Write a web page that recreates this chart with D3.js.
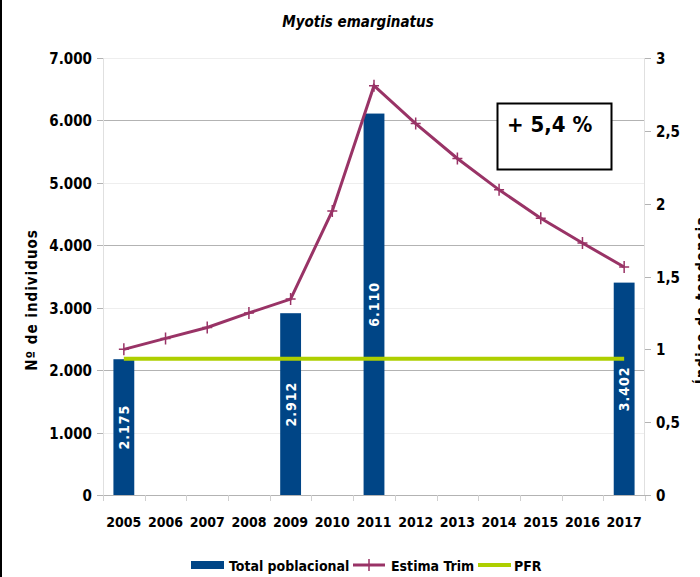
<!DOCTYPE html>
<html>
<head>
<meta charset="utf-8">
<script src="https://cdn.jsdelivr.net/npm/d3@7"></script>
<style>
  body { margin: 0; background: #fff; }
  svg text { font-family: "DejaVu Sans Condensed", "DejaVu Sans", sans-serif; }
</style>
</head>
<body>
<svg id="chart" width="700" height="577"></svg>
<script>
// data
var years = ["2005","2006","2007","2008","2009","2010","2011","2012","2013","2014","2015","2016","2017"];
var totalPoblacional = [2175, null, null, null, 2912, null, 6110, null, null, null, null, null, 3402];
var totalLabels = ["2.175", "", "", "", "2.912", "", "6.110", "", "", "", "", "", "3.402"];
var estimaTrim = [1.0, 1.075, 1.15, 1.25, 1.345, 1.95, 2.81, 2.55, 2.31, 2.095, 1.9, 1.73, 1.565];
var pfr = [0.935, 0.935, 0.935, 0.935, 0.935, 0.935, 0.935, 0.935, 0.935, 0.935, 0.935, 0.935, 0.935];
var leftTicks = [0, 1000, 2000, 3000, 4000, 5000, 6000, 7000];
var leftTickLabels = ["0", "1.000", "2.000", "3.000", "4.000", "5.000", "6.000", "7.000"];
var rightTicks = [0, 0.5, 1, 1.5, 2, 2.5, 3];
var rightTickLabels = ["0", "0,5", "1", "1,5", "2", "2,5", "3"];

var svg = d3.select("#chart");
var margin = {top: 58, left: 103, right: 55, bottom: 82};
var width = 700 - margin.left - margin.right,
    height = 577 - margin.top - margin.bottom;

var x = d3.scaleBand().domain(years).range([0, width]).paddingInner(0.5).paddingOuter(0.25);
var xPoint = d3.scalePoint().domain(years).range([0, width]).padding(0.5);
var y = d3.scaleLinear().domain([0, 7000]).range([height, 0]);
var y2 = d3.scaleLinear().domain([0, 3]).range([height, 0]);

var blue = "#004586", purple = "#993366", green = "#aecf00";

// left frame line
svg.append("rect").attr("x", 0).attr("y", 0).attr("width", 2).attr("height", 577).attr("fill", "#000");

svg.append("text")
    .attr("x", 358).attr("y", 27)
    .attr("text-anchor", "middle")
    .attr("font-size", 15)
    .attr("font-style", "italic")
    .attr("font-weight", "bold")
    .text("Myotis emarginatus");

var g = svg.append("g").attr("transform", "translate(" + margin.left + "," + margin.top + ")");

// gridlines
g.selectAll(".grid")
  .data(leftTicks.slice(1))
  .enter().append("line")
    .attr("x1", 0).attr("x2", width)
    .attr("y1", d => Math.round(y(d)) + 0.5).attr("y2", d => Math.round(y(d)) + 0.5)
    .attr("stroke", d => (d % 2000 === 0) ? "#b3b3b3" : "#eeeeee")
    .attr("stroke-width", 1);

// axis frame lines
g.append("line").attr("x1", 0.5).attr("x2", 0.5).attr("y1", 0).attr("y2", height).attr("stroke", "#e0e0e0");
g.append("line").attr("x1", width - 0.5).attr("x2", width - 0.5).attr("y1", 0).attr("y2", height).attr("stroke", "#e0e0e0");

// bars
var barData = years.map((yr, i) => ({year: yr, value: totalPoblacional[i], label: totalLabels[i]}))
  .filter(d => d.value != null);

g.selectAll(".bar")
  .data(barData)
  .enter().append("rect")
    .attr("class", "bar")
    .attr("x", d => x(d.year))
    .attr("y", d => y(d.value))
    .attr("width", x.bandwidth())
    .attr("height", d => height - y(d.value))
    .attr("fill", blue);

g.selectAll(".barLabel")
  .data(barData)
  .enter().append("text")
    .attr("transform", d => "translate(" + (x(d.year) + x.bandwidth() / 2 + 5) + "," + y(d.value / 2) + ") rotate(-90)")
    .attr("text-anchor", "middle")
    .attr("fill", "#fff")
    .attr("font-size", 14)
    .attr("font-weight", "bold")
    .attr("letter-spacing", 1)
    .text(d => d.label);

// bottom axis
var xAxis = g.append("g")
    .attr("transform", "translate(0," + height + ")");
xAxis.append("line").attr("x1", 0).attr("x2", width).attr("y1", 0.5).attr("y2", 0.5).attr("stroke", "#b3b3b3");
var step = width / years.length;
xAxis.selectAll(".xt")
  .data(d3.range(years.length + 1))
  .enter().append("line")
    .attr("x1", d => Math.round(d * step) + 0.5).attr("x2", d => Math.round(d * step) + 0.5)
    .attr("y1", 0).attr("y2", 6)
    .attr("stroke", "#d0d0d0");
xAxis.selectAll(".xl")
  .data(years)
  .enter().append("text")
    .attr("x", d => xPoint(d))
    .attr("y", 32)
    .attr("text-anchor", "middle")
    .attr("font-size", 14)
    .attr("font-weight", "bold")
    .text(d => d);

// left axis ticks/labels
g.selectAll(".lt")
  .data(leftTicks)
  .enter().append("line")
    .attr("x1", -6).attr("x2", 0)
    .attr("y1", d => Math.round(y(d)) + 0.5).attr("y2", d => Math.round(y(d)) + 0.5)
    .attr("stroke", "#b3b3b3");
g.selectAll(".ll")
  .data(leftTicks)
  .enter().append("text")
    .attr("x", -11)
    .attr("y", d => y(d) + 6)
    .attr("text-anchor", "end")
    .attr("font-size", 15)
    .attr("font-weight", "bold")
    .text((d, i) => leftTickLabels[i]);

// right axis ticks/labels
g.selectAll(".rt")
  .data(rightTicks)
  .enter().append("line")
    .attr("x1", width).attr("x2", width + 6)
    .attr("y1", d => Math.round(y2(d)) + 0.5).attr("y2", d => Math.round(y2(d)) + 0.5)
    .attr("stroke", "#b3b3b3");
g.selectAll(".rl")
  .data(rightTicks)
  .enter().append("text")
    .attr("x", 11)
    .attr("dx", width)
    .attr("y", d => y2(d) + 6)
    .attr("font-size", 15)
    .attr("font-weight", "bold")
    .text((d, i) => rightTickLabels[i]);

// axis titles (right one is clipped by the canvas edge, as in the original)
svg.append("text")
    .attr("transform", "translate(37,300) rotate(-90)")
    .attr("text-anchor", "middle")
    .attr("font-size", 15)
    .attr("font-weight", "bold")
    .attr("letter-spacing", 1)
    .text("Nº de individuos");
svg.append("text")
    .attr("transform", "translate(707,300) rotate(-90)")
    .attr("text-anchor", "middle")
    .attr("font-size", 15)
    .attr("font-weight", "bold")
    .attr("letter-spacing", 1)
    .text("Índice de tendencia");

// PFR line
var line2 = d3.line().x((d, i) => xPoint(years[i])).y(d => y2(d));
g.append("path")
    .datum(pfr)
    .attr("d", line2)
    .attr("fill", "none")
    .attr("stroke", green)
    .attr("stroke-width", 4);

// Estima Trim line
g.append("path")
    .datum(estimaTrim)
    .attr("d", line2)
    .attr("fill", "none")
    .attr("stroke", purple)
    .attr("stroke-width", 3);

function drawStar(sel, cx, cy) {
  sel.append("path")
    .attr("d", "M" + (cx - 5) + "," + cy + "L" + (cx + 5) + "," + cy + "M" + cx + "," + (cy - 6) + "L" + cx + "," + (cy + 6))
    .attr("stroke", purple).attr("stroke-width", 1.5);
}
estimaTrim.forEach((v, i) => drawStar(g, xPoint(years[i]), y2(v)));

// annotation box
svg.append("rect")
    .attr("x", 497.5).attr("y", 103.5)
    .attr("width", 114).attr("height", 66)
    .attr("fill", "#fff").attr("stroke", "#000").attr("stroke-width", 2);
svg.append("text")
    .attr("x", 507).attr("y", 132)
    .attr("font-size", 22)
    .attr("font-weight", "bold")
    .attr("font-family", "DejaVu Sans")
    .text("+ 5,4 %");

// legend
var lg = svg.append("g").attr("transform", "translate(0,565)");
lg.append("rect").attr("x", 191).attr("y", -4).attr("width", 33).attr("height", 8).attr("fill", blue);
lg.append("text").attr("x", 229).attr("y", 6).attr("font-size", 14).attr("font-weight", "bold").text("Total poblacional");
lg.append("line").attr("x1", 353).attr("x2", 385).attr("y1", 0).attr("y2", 0).attr("stroke", purple).attr("stroke-width", 3);
drawStar(lg, 369, 0);
lg.append("text").attr("x", 391).attr("y", 6).attr("font-size", 14).attr("font-weight", "bold").text("Estima Trim");
lg.append("line").attr("x1", 478).attr("x2", 511).attr("y1", 0).attr("y2", 0).attr("stroke", green).attr("stroke-width", 4);
lg.append("text").attr("x", 514).attr("y", 6).attr("font-size", 14).attr("font-weight", "bold").text("PFR");
</script>
</body>
</html>
